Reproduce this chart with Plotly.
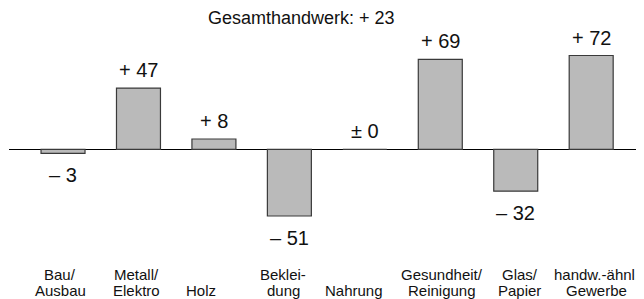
import plotly.graph_objects as go

categories = ["Bau/Ausbau", "Metall/Elektro", "Holz", "Bekleidung", "Nahrung",
              "Gesundheit/Reinigung", "Glas/Papier", "handw.-ähnl. Gewerbe"]
label_line1 = ["Bau/", "Metall/", "", "Beklei-", "", "Gesundheit/", "Glas/", "handw.-ähnl."]
label_line2 = ["Ausbau", "Elektro", "Holz", "dung", "Nahrung", "Reinigung", "Papier", "Gewerbe"]
values = [-3, 47, 8, -51, 0, 69, -32, 72]
total = 23

FONT = "Liberation Sans, Arial, Helvetica, sans-serif"
label_nudge = [-3, -2, -13, -6, -11, 2, 4, 5]


def fmt(v):
    if v > 0:
        return f"+ {v}"
    if v < 0:
        return f"\u2013 {abs(v)}"
    return "\u00b1 0"


fig = go.Figure(go.Bar(
    x=list(range(len(categories))),
    y=values,
    marker=dict(color="#bababa", line=dict(color="#3a3a3a", width=1.2)),
    hoverinfo="skip",
))

annotations = []
for i, v in enumerate(values):
    annotations.append(dict(
        x=i, y=v, xref="x", yref="y", text=fmt(v), showarrow=False,
        yanchor="middle", yshift=18 if v >= 0 else -22,
        font=dict(family=FONT, size=20, color="#111"),
    ))
    if label_line1[i]:
        annotations.append(dict(
            x=i, y=0.0859, xref="x", yref="paper", text=label_line1[i], showarrow=False,
            yanchor="middle", xshift=label_nudge[i],
            font=dict(family=FONT, size=15, color="#111"),
        ))
    annotations.append(dict(
        x=i, y=0.0309, xref="x", yref="paper", text=label_line2[i], showarrow=False,
        yanchor="middle", xshift=label_nudge[i],
        font=dict(family=FONT, size=15, color="#111"),
    ))

annotations.append(dict(
    x=0.46, y=0.9656, xref="paper", yref="paper", text=f"Gesamthandwerk: + {total}",
    showarrow=False, yanchor="middle", font=dict(family=FONT, size=18, color="#111"),
))

fig.update_layout(
    width=636, height=291,
    margin=dict(l=1, r=0, t=0, b=0),
    paper_bgcolor="white", plot_bgcolor="white",
    bargap=0.417,
    showlegend=False,
    annotations=annotations,
    xaxis=dict(range=[-0.716, 7.70], showticklabels=False, showgrid=False,
               zeroline=False, showline=False, ticks=""),
    yaxis=dict(range=[-114.6, 108.4], showticklabels=False, showgrid=False,
               zeroline=True, zerolinecolor="black", zerolinewidth=1.2,
               showline=False, ticks=""),
)

fig.write_html("out.html")
